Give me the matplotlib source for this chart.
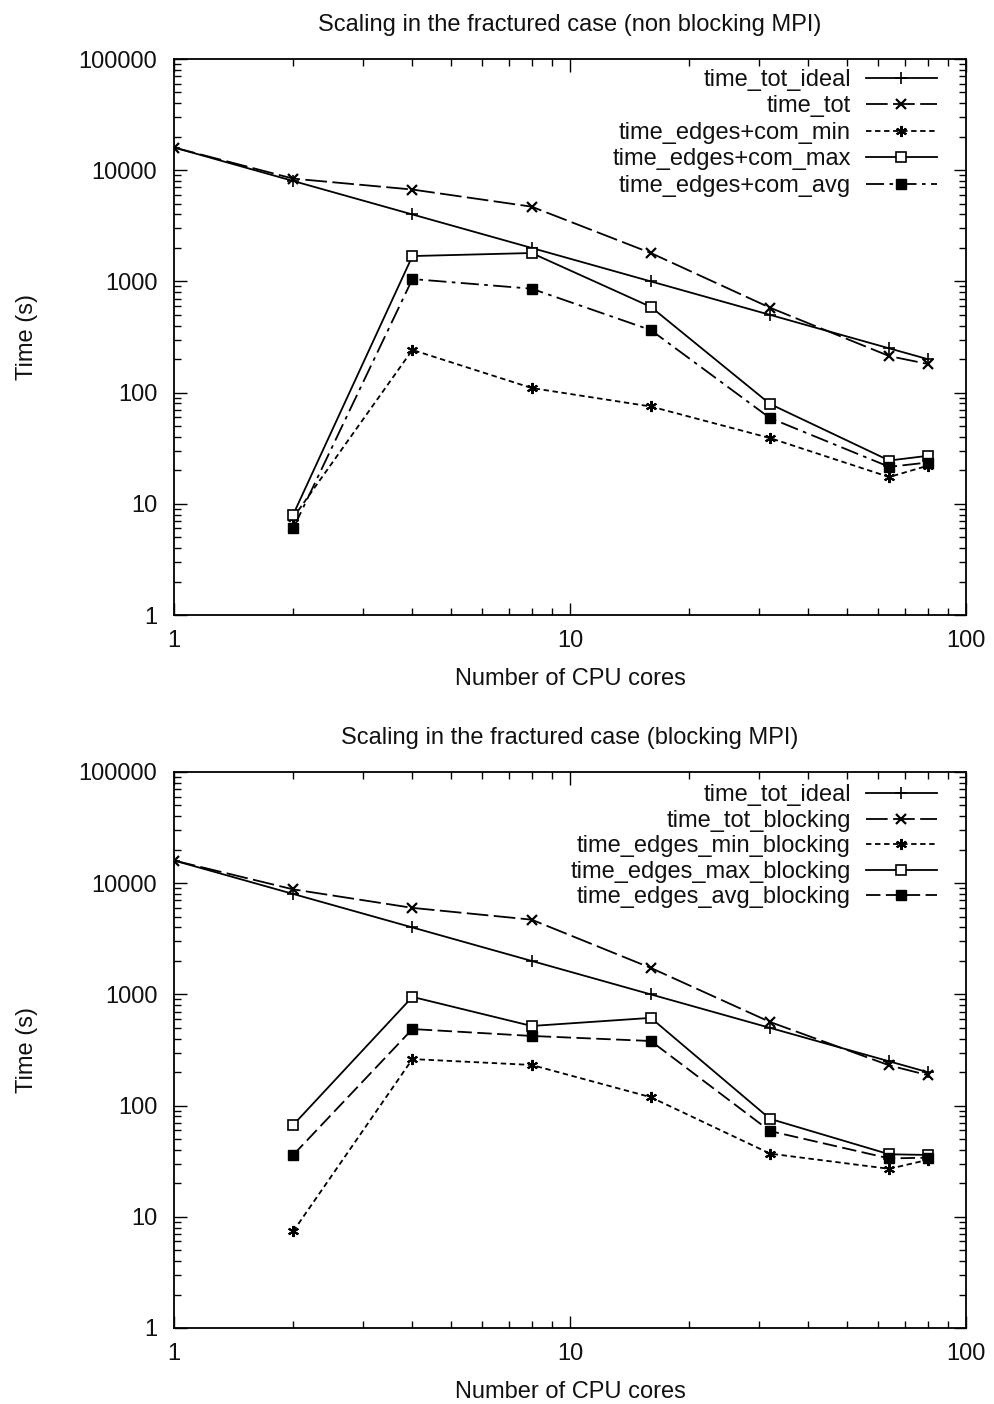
import matplotlib
matplotlib.use("Agg")
import matplotlib.pyplot as plt
from matplotlib.ticker import LogLocator, NullFormatter, FixedLocator, FixedFormatter

plt.rcParams['font.family'] = ['Liberation Sans', 'DejaVu Sans']

cores = [1, 2, 4, 8, 16, 32, 64, 80]
edge_cores = [2, 4, 8, 16, 32, 64, 80]

# Top: non blocking MPI
nb_ideal = [16000, 8000, 4000, 2000, 1000, 500, 250, 200]
nb_tot = [16000, 8400, 6700, 4700, 1800, 580, 213, 181]
nb_min = [7.5, 242, 110, 75, 39, 17.4, 22]
nb_max = [8, 1690, 1800, 590, 79, 24.5, 27]
nb_avg = [6, 1050, 860, 365, 59, 21.5, 23.5]

# Bottom: blocking MPI
b_ideal = [16000, 8000, 4000, 2000, 1000, 500, 250, 200]
b_tot = [16000, 8800, 6000, 4700, 1730, 565, 230, 188]
b_min = [7.4, 262, 232, 119, 37, 27, 32.5]
b_max = [67, 950, 520, 615, 76, 36.5, 36]
b_avg = [36, 488, 423, 381, 59, 33.5, 34]

top_labels = ['time_tot_ideal', 'time_tot', 'time_edges+com_min',
              'time_edges+com_max', 'time_edges+com_avg']
bot_labels = ['time_tot_ideal', 'time_tot_blocking', 'time_edges_min_blocking',
              'time_edges_max_blocking', 'time_edges_avg_blocking']
titles = ['Scaling in the fractured case (non blocking MPI)',
          'Scaling in the fractured case (blocking MPI)']

fig = plt.figure(figsize=(9.94, 14.04), dpi=100)
W, H = 994, 1404
ax1 = fig.add_axes([174 / W, 1 - 615 / H, 792 / W, 556 / H])
ax2 = fig.add_axes([174 / W, 1 - 1328 / H, 792 / W, 556 / H])

star = (6, 2, 0)
lw = 1.3
ms = 6.5
fs = 17
tc = '#111111'


def draw(ax, ideal, tot, mn, mx, avg, labels, title, style5, leg_y, leg_sp):
    ax.plot(cores, ideal, color='black', lw=lw, marker='+', ms=9, mew=1.2,
            label=labels[0])
    ax.plot(cores, tot, color='black', lw=lw, marker='x', ms=ms, mew=1.6,
            dashes=(12, 3), label=labels[1])
    ax.plot(edge_cores, mn, color='black', lw=lw, marker=star, ms=8, mew=1.5,
            dashes=(3, 2), label=labels[2])
    ax.plot(edge_cores, mx, color='black', lw=lw, marker='s', ms=ms, mew=1.2,
            mfc='white', label=labels[3])
    ax.plot(edge_cores, avg, color='black', lw=lw, marker='s', ms=ms + 0.5,
            mew=1.0, mfc='black', dashes=style5, label=labels[4])
    ax.set_xscale('log')
    ax.set_yscale('log')
    ax.set_xlim(1, 100)
    ax.set_ylim(1, 100000)
    ax.xaxis.set_major_locator(FixedLocator([1, 10, 100]))
    ax.xaxis.set_major_formatter(FixedFormatter(['1', '10', '100']))
    ax.xaxis.set_minor_locator(LogLocator(base=10, subs=range(2, 10)))
    ax.xaxis.set_minor_formatter(NullFormatter())
    yt = [1, 10, 100, 1000, 10000, 100000]
    ax.yaxis.set_major_locator(FixedLocator(yt))
    ax.yaxis.set_major_formatter(FixedFormatter([str(v) for v in yt]))
    ax.yaxis.set_minor_locator(LogLocator(base=10, subs=range(2, 10)))
    ax.yaxis.set_minor_formatter(NullFormatter())
    ax.tick_params(which='both', direction='in', top=True, right=True,
                   labelsize=fs, width=1.0, color='black', labelcolor=tc)
    ax.tick_params(which='major', length=9)
    ax.tick_params(which='minor', length=5)
    ax.tick_params(axis='y', pad=12)
    ax.tick_params(axis='x', pad=11)
    for s in ax.spines.values():
        s.set_linewidth(1.3)
    ax.set_xlabel('Number of CPU cores', fontsize=fs, labelpad=11, color=tc)
    ax.set_ylabel('Time (s)', fontsize=fs, labelpad=29, color=tc)
    ax.set_title(title, fontsize=fs, pad=20, color=tc)
    leg = ax.legend(loc='upper right', frameon=False, markerfirst=False,
                    fontsize=fs, handlelength=3.0, labelspacing=leg_sp,
                    handletextpad=0.64, borderaxespad=0.0, borderpad=0.0,
                    bbox_to_anchor=(0.963, leg_y))
    for t in leg.get_texts():
        t.set_color(tc)


draw(ax1, nb_ideal, nb_tot, nb_min, nb_max, nb_avg, top_labels, titles[0],
     (10, 3, 2, 3), 0.982, 0.19)
draw(ax2, b_ideal, b_tot, b_min, b_max, b_avg, bot_labels, titles[1],
     (8, 3), 0.978, 0.15)

fig.savefig('out.png', dpi=100)
